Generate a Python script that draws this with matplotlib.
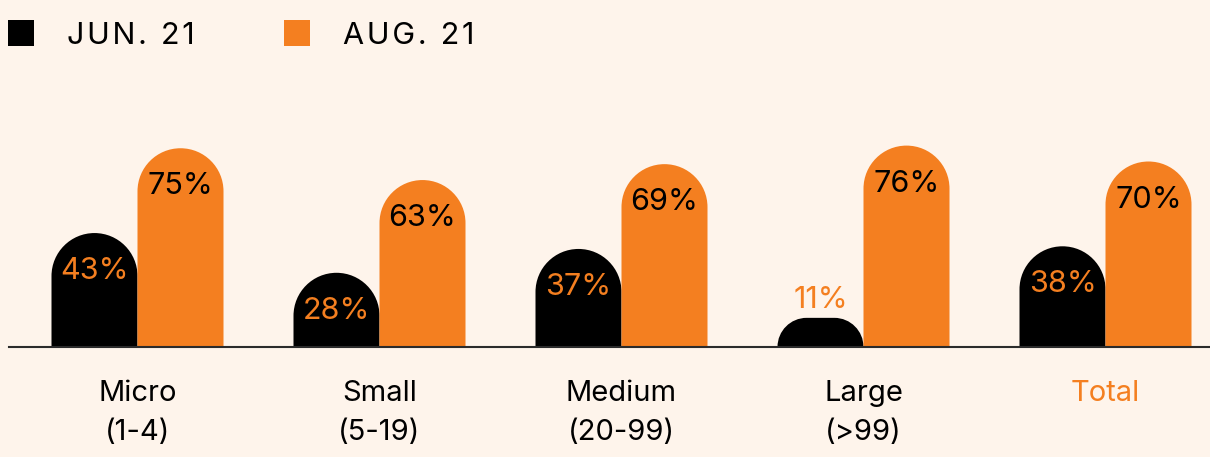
import matplotlib
matplotlib.use("Agg")
import matplotlib.pyplot as plt
from matplotlib.path import Path
from matplotlib.patches import PathPatch, Rectangle

categories = ["Micro\n(1-4)", "Small\n(5-19)", "Medium\n(20-99)", "Large\n(>99)", "Total"]
jun_21 = [43, 28, 37, 11, 38]
aug_21 = [75, 63, 69, 76, 70]
series_names = ["JUN. 21", "AUG. 21"]

BG = "#fef4eb"
ORANGE = "#f47f20"
BLACK = "#000000"
FONT = ["Inter", "DejaVu Sans"]

W, H = 1210, 457
PX_PER_X = 242.0   # pixels per group
PX_PER_Y = 2.65    # pixels per percentage point
BAR_W = 86 / PX_PER_X


def rounded_bar(x0, width, height, r_px):
    # rectangle with round top corners; radius given in pixels
    r_px = min(r_px, height * PX_PER_Y)
    rx = r_px / PX_PER_X
    ry = r_px / PX_PER_Y
    k = 0.5523
    x1 = x0 + width
    verts = [
        (x0, 0), (x0, height - ry),
        (x0, height - ry + k * ry), (x0 + rx - k * rx, height), (x0 + rx, height),
        (x1 - rx, height),
        (x1 - rx + k * rx, height), (x1, height - ry + k * ry), (x1, height - ry),
        (x1, 0), (x0, 0),
    ]
    codes = [Path.MOVETO, Path.LINETO,
             Path.CURVE4, Path.CURVE4, Path.CURVE4,
             Path.LINETO,
             Path.CURVE4, Path.CURVE4, Path.CURVE4,
             Path.LINETO, Path.CLOSEPOLY]
    return Path(verts, codes)


fig = plt.figure(figsize=(W / 100, H / 100), dpi=100, facecolor=BG)
left_px, base_px, top_px = 9, 347, 60
ax = fig.add_axes([left_px / W, (H - base_px) / H, 1 - left_px / W, (base_px - top_px) / H])
ax.set_facecolor(BG)
x_first = 137.5
ax.set_xlim(-(x_first - left_px) / PX_PER_X, (W - x_first) / PX_PER_X)
ax.set_ylim(0, (base_px - top_px) / PX_PER_Y)

for i, (a, b) in enumerate(zip(jun_21, aug_21)):
    for val, x0, color, txt_color in [(a, i - BAR_W, BLACK, ORANGE), (b, i, ORANGE, BLACK)]:
        ax.add_patch(PathPatch(rounded_bar(x0, BAR_W, val, 43), facecolor=color, edgecolor="none"))
        if val > 20:
            ax.text(x0 + BAR_W / 2, val - 38 / PX_PER_Y, f"{val}%", ha="center", va="center",
                    color=txt_color, fontsize=22, family=FONT)
        else:
            ax.text(x0 + BAR_W / 2, val + 18 / PX_PER_Y, f"{val}%", ha="center", va="center",
                    color=ORANGE, fontsize=22, family=FONT)

for s in ["top", "right", "left"]:
    ax.spines[s].set_visible(False)
ax.spines["bottom"].set_color("#2b2b2b")
ax.spines["bottom"].set_linewidth(1.5)
ax.set_yticks([])
ax.set_xticks(range(len(categories)))
ax.set_xticklabels(categories, fontsize=21, family=FONT, linespacing=1.55)
ax.tick_params(axis="x", length=0, pad=24)
ax.get_xticklabels()[-1].set_color(ORANGE)

# legend
hair = "\u200a"
for (x_sq, x_txt), name, color in zip([(8, 67), (284, 343)], series_names, [BLACK, ORANGE]):
    fig.patches.append(Rectangle((x_sq / W, 1 - 46 / H), 26 / W, 26 / H,
                                 transform=fig.transFigure, facecolor=color, edgecolor="none"))
    fig.text(x_txt / W, 1 - 36 / H, hair.join(name), ha="left", va="center",
             fontsize=22, family=FONT, color=BLACK)

fig.savefig("out.png", dpi=100, facecolor=BG)
